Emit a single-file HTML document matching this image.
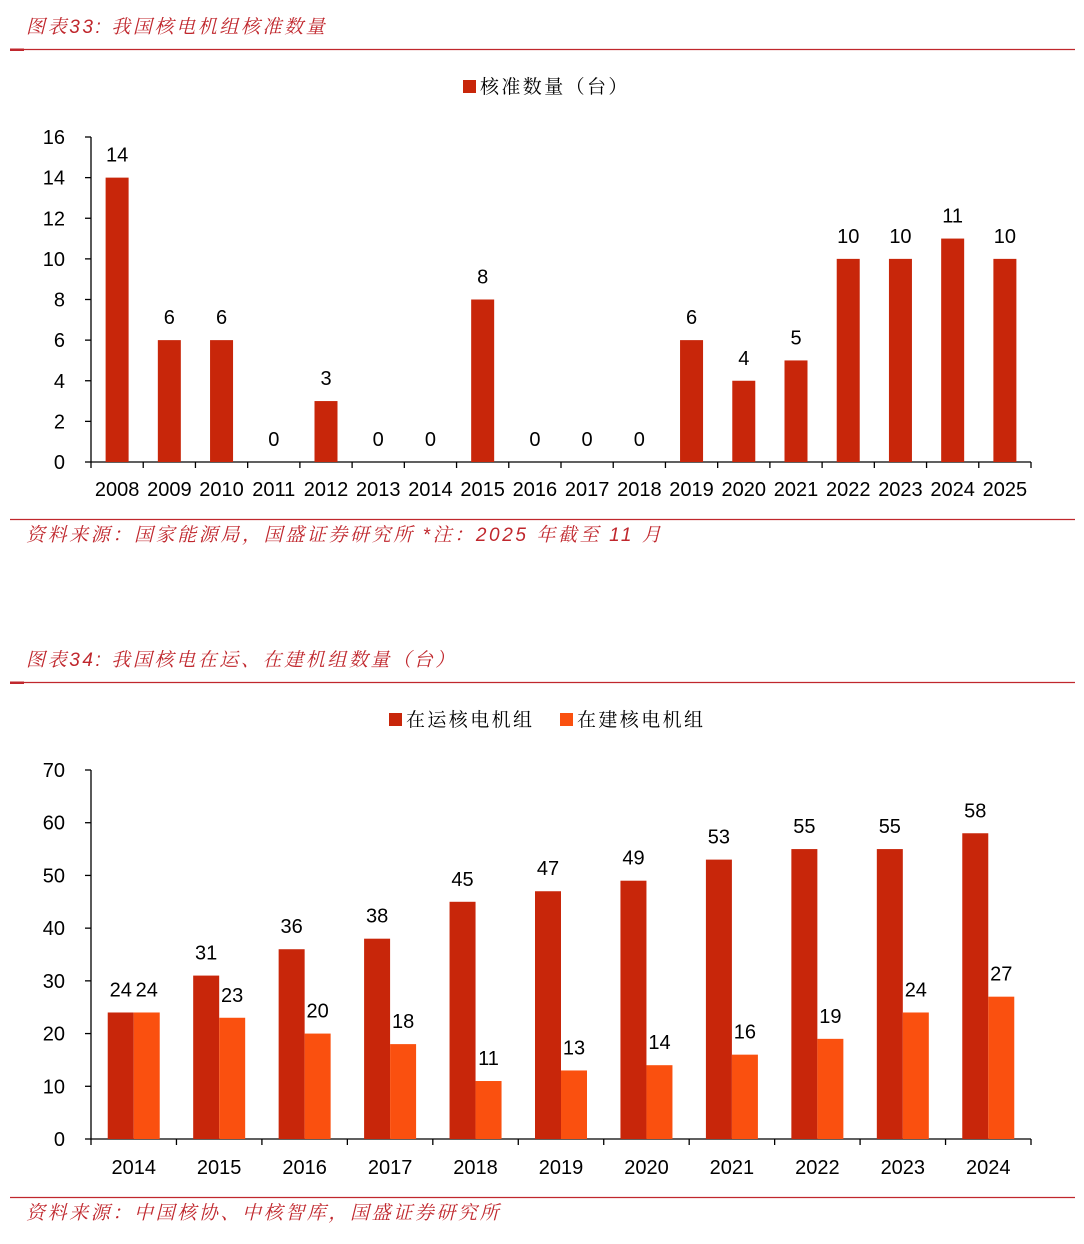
<!DOCTYPE html>
<html><head><meta charset="utf-8">
<style>
body{margin:0;background:#fff;width:1084px;height:1244px;overflow:hidden;font-family:"Liberation Sans","Noto Sans CJK SC",sans-serif;}
svg{display:block}
.cap{font-family:"Liberation Sans","Noto Serif CJK SC",serif;font-style:italic;font-size:19px;fill:#C0272D;letter-spacing:2.6px}
.leg{font-family:"Noto Serif CJK SC",serif;font-size:19px;fill:#000;letter-spacing:2.4px}
</style></head>
<body>
<svg id="s" width="1084" height="1244" xmlns="http://www.w3.org/2000/svg">
<g>
<text x="26" y="33" class="cap">图表33: 我国核电机组核准数量</text>
<line x1="10" y1="49.5" x2="1075" y2="49.5" stroke="#C0272D" stroke-width="1.2"/>
<rect x="10" y="48.5" width="14" height="2.5" fill="#C0272D"/>
</g>
<g>
<rect x="463" y="80" width="13" height="13" fill="#C8260A"/>
<text x="480" y="93" class="leg">核准数量（台）</text>
</g>
<g id="c1"></g>
<g>
<line x1="10" y1="519.5" x2="1075" y2="519.5" stroke="#C0272D" stroke-width="1.2"/>
<text x="26" y="541" class="cap">资料来源：国家能源局，国盛证券研究所 *注：2025 年截至 11 月</text>
</g>
<g>
<text x="26" y="666" class="cap">图表34: 我国核电在运、在建机组数量（台）</text>
<line x1="10" y1="682.5" x2="1075" y2="682.5" stroke="#C0272D" stroke-width="1.2"/>
<rect x="10" y="681.5" width="14" height="2.5" fill="#C0272D"/>
</g>
<g>
<rect x="389" y="713" width="13" height="13" fill="#C8260A"/>
<text x="406" y="726" class="leg">在运核电机组</text>
<rect x="560" y="713" width="13" height="13" fill="#FA500F"/>
<text x="577" y="726" class="leg">在建核电机组</text>
</g>
<g id="c2"></g>
<g>
<line x1="10" y1="1197.5" x2="1075" y2="1197.5" stroke="#C0272D" stroke-width="1.2"/>
<text x="26" y="1219" class="cap">资料来源：中国核协、中核智库，国盛证券研究所</text>
</g>
</svg>
<script>
const years1=["2008","2009","2010","2011","2012","2013","2014","2015","2016","2017","2018","2019","2020","2021","2022","2023","2024","2025"];
const approvals=[14,6,6,0,3,0,0,8,0,0,0,6,4,5,10,10,11,10];
const ticks1=[0,2,4,6,8,10,12,14,16];
const years2=["2014","2015","2016","2017","2018","2019","2020","2021","2022","2023","2024"];
const operating=[24,31,36,38,45,47,49,53,55,55,58];
const construction=[24,23,20,18,11,13,14,16,19,24,27];
const ticks2=[0,10,20,30,40,50,60,70];

const NS="http://www.w3.org/2000/svg";
function mk(p,tag,a,txt){const e=document.createElementNS(NS,tag);for(const k in a)e.setAttribute(k,a[k]);if(txt!==undefined)e.textContent=txt;p.appendChild(e);return e;}

(function(){
const g=document.getElementById('c1');
const x0=91,x1=1031,yTop=137,yBot=462,max=16;
const y=v=>yBot-(v/max)*(yBot-yTop);
const bw=(x1-x0)/years1.length;
const cx=i=>x0+bw*(i+0.5);
let ax=mk(g,'line',{x1:x0,y1:yTop,x2:x0,y2:yBot,stroke:'#000','stroke-width':1.3});


let bx=mk(g,'line',{x1:x0,y1:yBot,x2:x1,y2:yBot,stroke:'#000','stroke-width':1.3});


ticks1.forEach(t=>{mk(g,'line',{x1:x0-6,y1:y(t),x2:x0,y2:y(t),stroke:'#000','stroke-width':1.3});
const l=mk(g,'text',{x:65,y:y(t)+7,'font-size':20,'text-anchor':'end'},t);

});
for(let i=0;i<=years1.length;i++)mk(g,'line',{x1:x0+bw*i,y1:yBot,x2:x0+bw*i,y2:yBot+6,stroke:'#000','stroke-width':1.3});
years1.forEach((yr,i)=>{
const v=approvals[i];
const r=mk(g,'rect',{x:cx(i)-11.5,y:y(v),width:23,height:yBot-y(v),fill:'#C8260A'});


const vl=mk(g,'text',{x:cx(i),y:y(v)-16,'font-size':20,'text-anchor':'middle'},v);


const xl=mk(g,'text',{x:cx(i),y:496,'font-size':20,'text-anchor':'middle'},yr);


});
})();

(function(){
const g=document.getElementById('c2');
const x0=91,x1=1031,yTop=770,yBot=1139,max=70;
const y=v=>yBot-(v/max)*(yBot-yTop);
const bw=(x1-x0)/years2.length;
const cx=i=>x0+bw*(i+0.5);
let ax=mk(g,'line',{x1:x0,y1:yTop,x2:x0,y2:yBot,stroke:'#000','stroke-width':1.3});


let bx=mk(g,'line',{x1:x0,y1:yBot,x2:x1,y2:yBot,stroke:'#000','stroke-width':1.3});


ticks2.forEach(t=>{mk(g,'line',{x1:x0-6,y1:y(t),x2:x0,y2:y(t),stroke:'#000','stroke-width':1.3});
const l=mk(g,'text',{x:65,y:y(t)+7,'font-size':20,'text-anchor':'end'},t);

});
for(let i=0;i<=years2.length;i++)mk(g,'line',{x1:x0+bw*i,y1:yBot,x2:x0+bw*i,y2:yBot+6,stroke:'#000','stroke-width':1.3});
years2.forEach((yr,i)=>{
const a=operating[i],b=construction[i];
const r=mk(g,'rect',{x:cx(i)-26,y:y(a),width:26,height:yBot-y(a),fill:'#C8260A'});


const o=mk(g,'rect',{x:cx(i),y:y(b),width:26,height:yBot-y(b),fill:'#FA500F'});


const l1=mk(g,'text',{x:cx(i)-13,y:y(a)-16,'font-size':20,'text-anchor':'middle'},a);


const l2=mk(g,'text',{x:cx(i)+13,y:y(b)-16,'font-size':20,'text-anchor':'middle'},b);


const xl=mk(g,'text',{x:cx(i),y:1174,'font-size':20,'text-anchor':'middle'},yr);


});
})();
</script>
</body></html>
